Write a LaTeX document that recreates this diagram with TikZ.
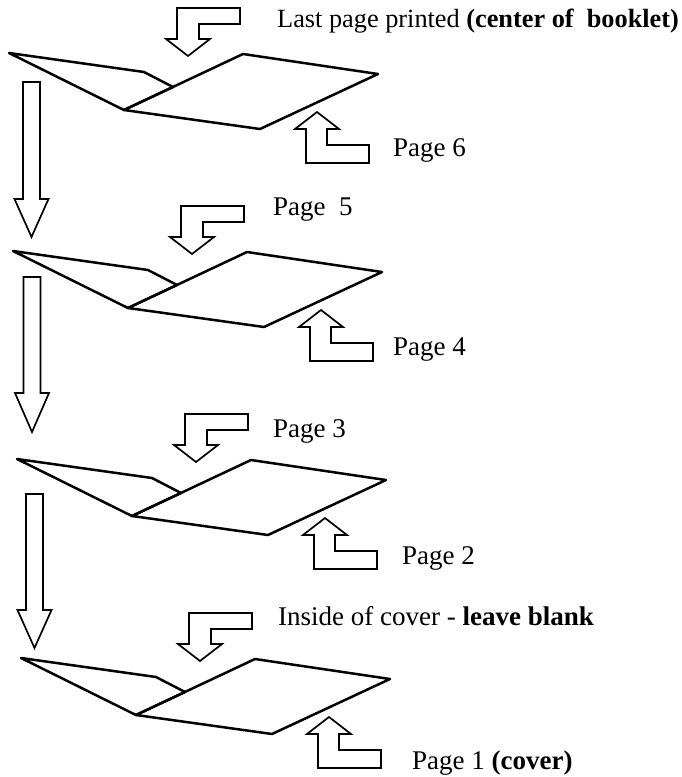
\documentclass[tikz,border=0pt]{standalone}
\usepackage{fontspec}
\setmainfont{Liberation Serif}
\usetikzlibrary{positioning}

\begin{document}
\begin{tikzpicture}[x=1pt,y=-1pt,
    pagefold/.style={line width=2.5pt,line join=round},
    blockarrow/.style={line width=1.7pt,line join=miter},
    pagetext/.style={anchor=base west,inner sep=0pt,font=\fontsize{27}{31}\selectfont}]
			% Frame
			\fill[white] (0,0) rectangle (682,777);
			\useasboundingbox (0,0) rectangle (682,777);

			% Booklets with their arrows
			\foreach \bx/\by in {9/53, 13/251, 17/459, 21/658} {
				\begin{scope}[shift={(\bx,\by)}]
					\draw[pagefold] (0,0) -- (135,19) -- (164,34) -- (115,57) -- cycle;
					\draw[pagefold] (115,57) -- (251,76) -- (369,21) -- (234,1) -- cycle;
					\draw[blockarrow] (168,-45) -- (231,-45) -- (231,-29) -- (190,-29) -- (190,-14)
						-- (201,-14) -- (179,3) -- (157,-14) -- (168,-14) -- cycle;
					\draw[blockarrow] (308,59) -- (330,76) -- (318,76) -- (318,92) -- (360,92)
						-- (360,110) -- (297,110) -- (297,76) -- (286,76) -- cycle;
				\end{scope}
			}

			% Long arrows
			\foreach \cx/\ya/\yb/\yc in {31.5/82/199/237, 32/277/393/432, 34.5/494/610/648} {
				\draw[blockarrow] (\cx-8.5,\ya) -- (\cx+8.5,\ya) -- (\cx+8.5,\yb) -- (\cx+17,\yb)
					-- (\cx,\yc) -- (\cx-17,\yb) -- (\cx-8.5,\yb) -- cycle;
			}

			% Labels
			\node[pagetext,font=\fontsize{26.3}{30}\selectfont] (lastpage) at (277,27) {Last page printed \textbf{(center of\ \ booklet)}};
			\node[pagetext] (pagesix) at (393,156) {Page 6};
			\node[pagetext] (pagefive) at (273,215) {Page\ \ 5};
			\node[pagetext] (pagefour) at (393,355) {Page 4};
			\node[pagetext] (pagethree) at (273,437) {Page 3};
			\node[pagetext] (pagetwo) at (402,564) {Page 2};
			\node[pagetext] (insidecover) at (278,625) {Inside of cover - \textbf{leave blank}};
			\node[pagetext] (pageone) at (412,769) {Page 1 \textbf{(cover)}};
		\end{tikzpicture}
\end{document}
